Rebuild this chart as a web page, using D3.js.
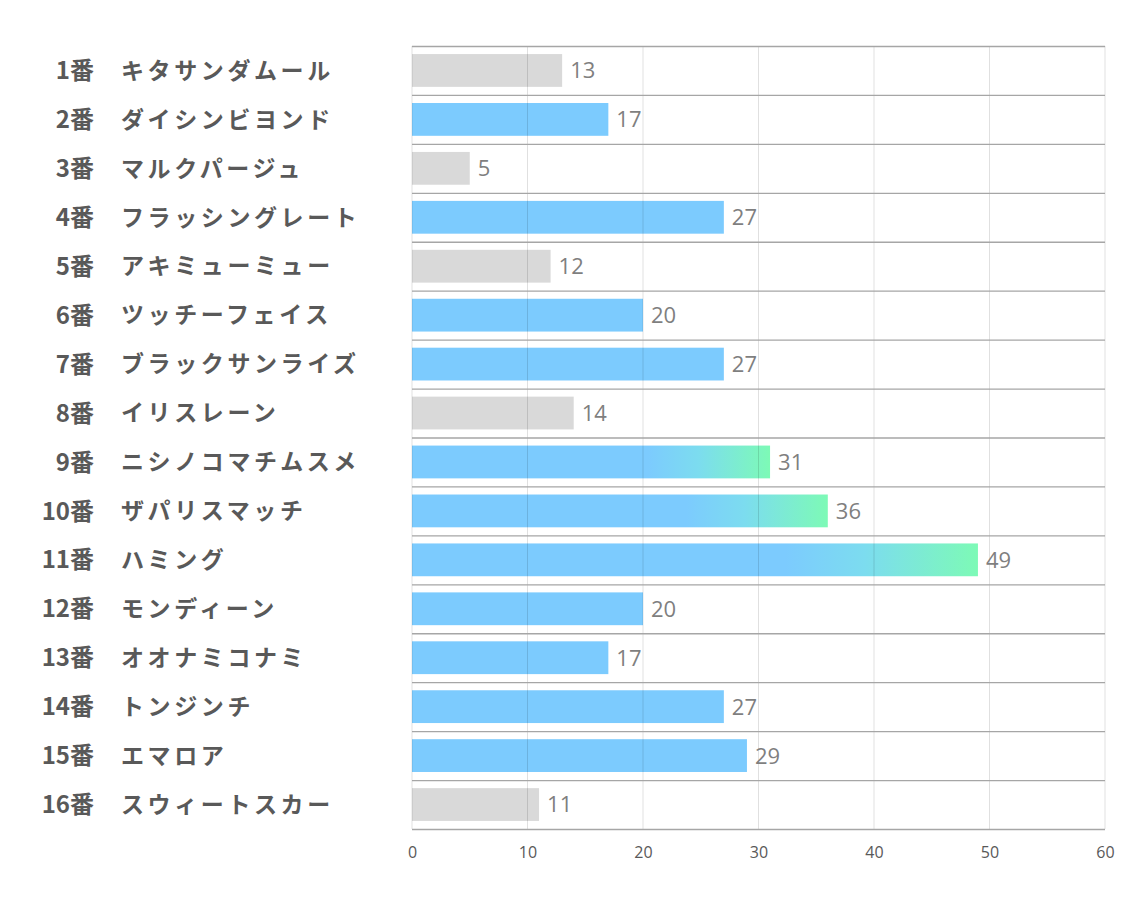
<!DOCTYPE html>
<html><head><meta charset="utf-8">
<script src="https://cdn.jsdelivr.net/npm/d3@7"></script>
<style>body{margin:0;background:#fff}</style>
</head><body>
<svg id="c" width="1134" height="907"></svg>
<script>
const numbers = ["1番","2番","3番","4番","5番","6番","7番","8番","9番","10番","11番","12番","13番","14番","15番","16番"];
const names = ["キタサンダムール","ダイシンビヨンド","マルクパージュ","フラッシングレート","アキミューミュー","ツッチーフェイス","ブラックサンライズ","イリスレーン","ニシノコマチムスメ","ザパリスマッチ","ハミング","モンディーン","オオナミコナミ","トンジンチ","エマロア","スウィートスカー"];
const values = [13,17,5,27,12,20,27,14,31,36,49,20,17,27,29,11];
const kinds = ["gray","blue","gray","blue","gray","blue","blue","gray","grad","grad","grad","blue","blue","blue","blue","gray"];
const ticks = [0,10,20,30,40,50,60];

const svg = d3.select("#c");
const pL = 412, pR = 1105, pT = 46, pB = 829;
const x = d3.scaleLinear().domain([0,60]).range([pL,pR]);
const y = d3.scaleBand().domain(d3.range(values.length)).range([pT,pB]).paddingInner(0.33).paddingOuter(0.165);
const yRow = d3.scaleBand().domain(d3.range(values.length)).range([pT,pB]);

const defs = svg.append("defs");
const g = defs.append("linearGradient").attr("id","gr").attr("x1","0").attr("x2","1").attr("y1","0").attr("y2","0");
g.append("stop").attr("offset","0%").attr("stop-color","#7ccbfe");
g.append("stop").attr("offset","66%").attr("stop-color","#7ccbfe");
g.append("stop").attr("offset","80%").attr("stop-color","#7cdcef");
g.append("stop").attr("offset","100%").attr("stop-color","#7dfab6");

const colors = {gray:"#d9d9d9", blue:"#7ccbfe", grad:"url(#gr)"};

// bars
svg.append("g").selectAll("rect").data(values).join("rect")
  .attr("x", x(0)).attr("y",(d,i)=>y(i))
  .attr("width", d=>x(d)-x(0)).attr("height", y.bandwidth())
  .attr("fill",(d,i)=>colors[kinds[i]]);

// vertical gridlines
svg.append("g").selectAll("line").data(ticks).join("line")
  .attr("x1",d=>x(d)).attr("x2",d=>x(d)).attr("y1",pT).attr("y2",pB)
  .attr("stroke","#000").attr("stroke-opacity",0.12).attr("stroke-width",1);

// horizontal row lines
svg.append("g").selectAll("line").data(d3.range(values.length+1)).join("line")
  .attr("x1",pL).attr("x2",pR)
  .attr("y1",d=>d<values.length?yRow(d)+0.5:pB+0.5).attr("y2",d=>d<values.length?yRow(d)+0.5:pB+0.5)
  .attr("stroke","#a6a6a6").attr("stroke-width",1.3);

// value labels
svg.append("g").selectAll("text").data(values).join("text")
  .attr("x",d=>x(d)+8).attr("y",(d,i)=>y(i)+y.bandwidth()/2)
  .attr("dy","0.36em")
  .attr("font-family","'Open Sans','Noto Sans',sans-serif").attr("font-size",22)
  .attr("fill","#7f7f7f").text(d=>d);

// category labels
const lab = svg.append("g").attr("font-family","'Noto Sans CJK JP',sans-serif").attr("font-weight","bold").attr("fill","#595959");
lab.selectAll("text.n").data(numbers).join("text").attr("class","n")
  .attr("x",94).attr("y",(d,i)=>yRow(i)+yRow.bandwidth()/2).attr("dy","0.36em")
  .attr("font-size",24)
  .attr("text-anchor","end").text(d=>d);
lab.selectAll("text.m").data(names).join("text").attr("class","m")
  .attr("x",121).attr("y",(d,i)=>yRow(i)+yRow.bandwidth()/2).attr("dy","0.36em")
  .attr("font-size",23).attr("letter-spacing","3.6px")
  .text(d=>d);

// x axis
const ax = svg.append("g").attr("transform",`translate(0,${pB})`)
  .call(d3.axisBottom(x).tickValues(ticks).tickSize(0).tickPadding(18));
ax.select(".domain").remove();
ax.selectAll("text").attr("font-family","'Liberation Sans Narrow','Open Sans',sans-serif").attr("font-size",16).attr("fill","#595959");
</script>
</body></html>
